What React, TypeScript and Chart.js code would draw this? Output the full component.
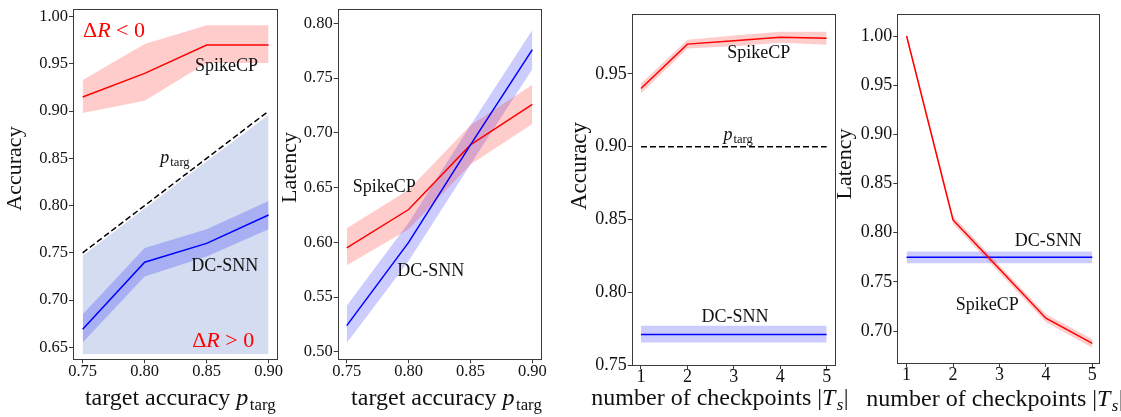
import React, { useEffect, useRef } from 'react';
import { Chart, registerables } from 'chart.js';

Chart.register(...registerables);

const SERIF = '"Liberation Serif", "Times New Roman", serif';
const RED = '#ff0000';
const BLUE = '#0000ff';
const RED_BAND = 'rgba(255,0,0,0.2)';
const BLUE_BAND = 'rgba(0,0,255,0.2)';
const REGION = '#d3dcf0';
const INK = '#111111';
const FRAME = '#3a3a3a';

// ---------- Panel 1: accuracy vs target accuracy ----------
const targetAcc = [0.75, 0.8, 0.85, 0.9];
const accSpike = [0.915, 0.94, 0.97, 0.97];
const accSpikeLo = [0.898, 0.911, 0.951, 0.951];
const accSpikeHi = [0.933, 0.971, 0.991, 0.991];
const accDc = [0.669, 0.74, 0.76, 0.79];
const accDcLo = [0.655, 0.725, 0.746, 0.775];
const accDcHi = [0.685, 0.755, 0.775, 0.805];
const pTarg = [0.75, 0.8, 0.85, 0.9];
const feasibleTop = [0.747, 0.797, 0.847, 0.896];
const feasibleBottom = [0.643, 0.643, 0.643, 0.643];

// ---------- Panel 2: latency vs target accuracy ----------
const latSpike = [0.595, 0.63, 0.689, 0.726];
const latSpikeLo = [0.579, 0.612, 0.671, 0.708];
const latSpikeHi = [0.613, 0.648, 0.707, 0.744];
const latDc = [0.524, 0.6, 0.689, 0.776];
const latDcLo = [0.508, 0.583, 0.671, 0.758];
const latDcHi = [0.542, 0.618, 0.707, 0.794];

// ---------- Panel 3: accuracy vs number of checkpoints ----------
const checkpoints = [1, 2, 3, 4, 5];
const ckAccSpike = [0.94, 0.9705, 0.9728, 0.9752, 0.9745];
const ckAccSpikeLo = [0.9365, 0.9675, 0.969, 0.9715, 0.97];
const ckAccSpikeHi = [0.9435, 0.9735, 0.9765, 0.979, 0.979];
const ckPTarg = [0.9, 0.9, 0.9, 0.9, 0.9];
const ckAccDc = [0.771, 0.771, 0.771, 0.771, 0.771];
const ckAccDcLo = [0.7655, 0.7655, 0.7655, 0.7655, 0.7655];
const ckAccDcHi = [0.777, 0.777, 0.777, 0.777, 0.777];

// ---------- Panel 4: latency vs number of checkpoints ----------
const ckLatSpike = [1.0, 0.813, 0.763, 0.713, 0.6875];
const ckLatSpikeLo = [0.997, 0.809, 0.759, 0.709, 0.683];
const ckLatSpikeHi = [1.003, 0.817, 0.767, 0.717, 0.692];
const ckLatDc = [0.775, 0.775, 0.775, 0.775, 0.775];
const ckLatDcLo = [0.769, 0.769, 0.769, 0.769, 0.769];
const ckLatDcHi = [0.781, 0.781, 0.781, 0.781, 0.781];

// ---------- text ----------
type Seg = { t: string; it?: boolean; sub?: boolean };
const P_TARG: Seg[] = [{ t: 'p', it: true }, { t: 'targ', sub: true }];
const X_TITLE_TARGET: Seg[] = [{ t: 'target accuracy ' }, ...P_TARG];
const X_TITLE_CK: Seg[] = [
  { t: 'number of checkpoints |' },
  { t: 'T', it: true },
  { t: 's', it: true, sub: true },
  { t: '|' },
];
const DR_NEG: Seg[] = [{ t: 'Δ' }, { t: 'R', it: true }, { t: ' < 0' }];
const DR_POS: Seg[] = [{ t: 'Δ' }, { t: 'R', it: true }, { t: ' > 0' }];

const pts = (xs: number[], ys: number[]) => xs.map((x, i) => ({ x, y: ys[i] }));

const line = (xs: number[], ys: number[], color: string, order: number, dash?: number[]) => ({
  data: pts(xs, ys),
  borderColor: color,
  borderWidth: 1.5,
  borderDash: dash || [],
  pointRadius: 0,
  fill: false,
  tension: 0,
  order,
});

const band = (xs: number[], lo: number[], hi: number[], color: string, order: number) => [
  {
    data: pts(xs, lo),
    borderColor: 'rgba(0,0,0,0)',
    borderWidth: 0,
    pointRadius: 0,
    fill: false,
    order,
  },
  {
    data: pts(xs, hi),
    borderColor: 'rgba(0,0,0,0)',
    borderWidth: 0,
    pointRadius: 0,
    fill: '-1',
    backgroundColor: color,
    order,
  },
];

type Note = { segs: Seg[]; x: number; y: number; size: number; color: string; align?: 'left' | 'center' };

interface PanelCfg {
  left: number;
  width: number;
  box: { l: number; r: number; t: number; b: number };
  xMin: number;
  xMax: number;
  xStep: number;
  xDec: number;
  yMin: number;
  yMax: number;
  yStep: number;
  tickSize: number;
  xTickPad: number;
  datasets: any[];
  yTitle: { text: string; x: number; y: number; size: number };
  xTitle: { segs: Seg[]; cx: number; baseline: number; size: number };
  notes: Note[];
}

function drawRich(
  ctx: CanvasRenderingContext2D,
  segs: Seg[],
  x: number,
  baseline: number,
  size: number,
  color: string,
  align: 'left' | 'center'
) {
  const font = (s: Seg) => `${s.it ? 'italic ' : ''}${s.sub ? (size * 0.7).toFixed(1) : size}px ${SERIF}`;
  const widths: number[] = [];
  let total = 0;
  segs.forEach((s, i) => {
    ctx.font = font(s);
    let w = ctx.measureText(s.t).width;
    if (s.sub) w += size * 0.08;
    widths[i] = w;
    total += w;
  });
  let cx = align === 'left' ? x : x - total / 2;
  ctx.fillStyle = color;
  ctx.textBaseline = 'alphabetic';
  ctx.textAlign = 'left';
  segs.forEach((s, i) => {
    ctx.font = font(s);
    const dx = s.sub ? size * 0.06 : 0;
    ctx.fillText(s.t, cx + dx, baseline + (s.sub ? size * 0.2 : 0));
    cx += widths[i];
  });
}

const H = 417;

const panels: PanelCfg[] = [
  {
    left: 0,
    width: 300,
    box: { l: 73, r: 277, t: 9.3, b: 359.3 },
    xMin: 0.7422,
    xMax: 0.9068,
    xStep: 0.05,
    xDec: 2,
    yMin: 0.6373,
    yMax: 1.0078,
    yStep: 0.05,
    tickSize: 16.5,
    xTickPad: 0,
    datasets: [
      line(targetAcc, accSpike, RED, 0),
      line(targetAcc, accDc, BLUE, 0),
      line(targetAcc, pTarg, '#000000', 1, [6, 3]),
      ...band(targetAcc, accSpikeLo, accSpikeHi, RED_BAND, 2),
      ...band(targetAcc, accDcLo, accDcHi, BLUE_BAND, 2),
      ...band(targetAcc, feasibleBottom, feasibleTop, REGION, 3),
    ],
    yTitle: { text: 'Accuracy', x: 21, y: 168.5, size: 22 },
    xTitle: { segs: X_TITLE_TARGET, cx: 180.5, baseline: 405, size: 24 },
    notes: [
      { segs: DR_NEG, x: 0.7503, y: 0.986, size: 22, color: RED, align: 'left' },
      { segs: DR_POS, x: 0.8634, y: 0.6577, size: 22, color: RED },
      { segs: [{ t: 'SpikeCP' }], x: 0.866, y: 0.9489, size: 18, color: INK },
      { segs: P_TARG, x: 0.8246, y: 0.8515, size: 18, color: INK },
      { segs: [{ t: 'DC-SNN' }], x: 0.8646, y: 0.7371, size: 18, color: INK },
    ],
  },
  {
    left: 278,
    width: 282,
    box: { l: 337.7, r: 541, t: 4, b: 359.3 },
    xMin: 0.7427,
    xMax: 0.907,
    xStep: 0.05,
    xDec: 2,
    yMin: 0.4932,
    yMax: 0.8129,
    yStep: 0.05,
    tickSize: 16.5,
    xTickPad: 0,
    datasets: [
      line(checkpointsSafe(targetAcc), latDc, BLUE, 0),
      line(targetAcc, latSpike, RED, 0),
      ...band(targetAcc, latSpikeLo, latSpikeHi, RED_BAND, 2),
      ...band(targetAcc, latDcLo, latDcHi, BLUE_BAND, 2),
    ],
    yTitle: { text: 'Latency', x: 296, y: 167.5, size: 22 },
    xTitle: { segs: X_TITLE_TARGET, cx: 446.7, baseline: 405, size: 24 },
    notes: [
      { segs: [{ t: 'SpikeCP' }], x: 0.7803, y: 0.6518, size: 18, color: INK },
      { segs: [{ t: 'DC-SNN' }], x: 0.8179, y: 0.5743, size: 18, color: INK },
    ],
  },
  {
    left: 560,
    width: 296,
    box: { l: 631.7, r: 835, t: 14, b: 365 },
    xMin: 0.8,
    xMax: 5.18,
    xStep: 1,
    xDec: 0,
    yMin: 0.75,
    yMax: 0.9912,
    yStep: 0.05,
    tickSize: 18,
    xTickPad: -1,
    datasets: [
      line(checkpoints, ckAccSpike, RED, 0),
      line(checkpoints, ckAccDc, BLUE, 0),
      line(checkpoints, ckPTarg, '#000000', 1, [6, 3]),
      ...band(checkpoints, ckAccSpikeLo, ckAccSpikeHi, RED_BAND, 2),
      ...band(checkpoints, ckAccDcLo, ckAccDcHi, BLUE_BAND, 2),
    ],
    yTitle: { text: 'Accuracy', x: 585.7, y: 166, size: 23 },
    xTitle: { segs: X_TITLE_CK, cx: 720, baseline: 405, size: 24 },
    notes: [
      { segs: [{ t: 'SpikeCP' }], x: 3.539, y: 0.965, size: 18, color: INK },
      { segs: P_TARG, x: 3.097, y: 0.9088, size: 18, color: INK },
      { segs: [{ t: 'DC-SNN' }], x: 3.026, y: 0.7837, size: 18, color: INK },
    ],
  },
  {
    left: 836,
    width: 285,
    box: { l: 897.3, r: 1099.3, t: 14, b: 363 },
    xMin: 0.8,
    xMax: 5.15,
    xStep: 1,
    xDec: 0,
    yMin: 0.6675,
    yMax: 1.0224,
    yStep: 0.05,
    tickSize: 18,
    xTickPad: -1,
    datasets: [
      line(checkpoints, ckLatSpike, RED, 0),
      line(checkpoints, ckLatDc, BLUE, 1),
      ...band(checkpoints, ckLatSpikeLo, ckLatSpikeHi, RED_BAND, 2),
      ...band(checkpoints, ckLatDcLo, ckLatDcHi, BLUE_BAND, 2),
    ],
    yTitle: { text: 'Latency', x: 851, y: 164, size: 22 },
    xTitle: { segs: X_TITLE_CK, cx: 995, baseline: 406, size: 24 },
    notes: [
      { segs: [{ t: 'DC-SNN' }], x: 4.052, y: 0.793, size: 18, color: INK },
      { segs: [{ t: 'SpikeCP' }], x: 2.735, y: 0.7274, size: 18, color: INK },
    ],
  },
];

function checkpointsSafe(xs: number[]) {
  return xs;
}

function Panel({ cfg }: { cfg: PanelCfg }) {
  const ref = useRef<HTMLCanvasElement>(null);
  useEffect(() => {
    const canvas = ref.current;
    if (!canvas) return;
    const decor = {
      id: 'decor',
      afterDraw(chart: any) {
        const ctx: CanvasRenderingContext2D = chart.ctx;
        const a = chart.chartArea;
        const xs = chart.scales.x;
        const ys = chart.scales.y;
        ctx.save();
        // frame
        ctx.strokeStyle = FRAME;
        ctx.lineWidth = 1;
        ctx.strokeRect(Math.round(a.left) + 0.5, Math.round(a.top) + 0.5, Math.round(a.right - a.left), Math.round(a.bottom - a.top));
        // annotations
        cfg.notes.forEach((n) => {
          const px = xs.getPixelForValue(n.x);
          const py = ys.getPixelForValue(n.y);
          drawRich(ctx, n.segs, px, py + n.size * 0.33, n.size, n.color, n.align || 'center');
        });
        // x title
        drawRich(ctx, cfg.xTitle.segs, cfg.xTitle.cx - cfg.left, cfg.xTitle.baseline, cfg.xTitle.size, INK, 'center');
        // y title
        ctx.save();
        ctx.translate(cfg.yTitle.x - cfg.left, cfg.yTitle.y);
        ctx.rotate(-Math.PI / 2);
        ctx.font = `${cfg.yTitle.size}px ${SERIF}`;
        ctx.fillStyle = INK;
        ctx.textAlign = 'center';
        ctx.textBaseline = 'alphabetic';
        ctx.fillText(cfg.yTitle.text, 0, 0);
        ctx.restore();
        ctx.restore();
      },
    };
    const tickFont = { family: SERIF, size: cfg.tickSize, lineHeight: 1 };
    const chart = new Chart(canvas, {
      type: 'line',
      data: { datasets: cfg.datasets },
      options: {
        animation: false,
        responsive: true,
        maintainAspectRatio: false,
        events: [],
        layout: {
          padding: { left: 0, top: cfg.box.t, right: cfg.left + cfg.width - cfg.box.r, bottom: 0 },
        },
        plugins: { legend: { display: false }, tooltip: { enabled: false } },
        scales: {
          x: {
            type: 'linear',
            min: cfg.xMin,
            max: cfg.xMax,
            afterFit: (s: any) => {
              s.height = H - cfg.box.b;
            },
            border: { display: false },
            grid: { drawOnChartArea: false, drawTicks: true, tickLength: 4, color: FRAME },
            ticks: {
              stepSize: cfg.xStep,
              includeBounds: false,
              autoSkip: false,
              maxRotation: 0,
              padding: cfg.xTickPad,
              color: INK,
              font: tickFont,
              callback: (v: any) => Number(v).toFixed(cfg.xDec),
            },
          },
          y: {
            type: 'linear',
            min: cfg.yMin,
            max: cfg.yMax,
            afterFit: (s: any) => {
              s.width = cfg.box.l - cfg.left;
            },
            border: { display: false },
            grid: { drawOnChartArea: false, drawTicks: true, tickLength: 4, color: FRAME },
            ticks: {
              stepSize: cfg.yStep,
              includeBounds: false,
              autoSkip: false,
              padding: 1,
              color: INK,
              font: tickFont,
              callback: (v: any) => Number(v).toFixed(2),
            },
          },
        },
      } as any,
      plugins: [decor],
    });
    return () => chart.destroy();
  }, [cfg]);
  return (
    <div style={{ position: 'absolute', left: cfg.left, top: 0, width: cfg.width, height: H }}>
      <canvas ref={ref} />
    </div>
  );
}

export default function App() {
  return (
    <div style={{ position: 'absolute', left: 0, top: 0, width: 1121, height: H, background: '#ffffff', overflow: 'hidden' }}>
      {panels.map((p, i) => (
        <Panel key={i} cfg={p} />
      ))}
    </div>
  );
}
